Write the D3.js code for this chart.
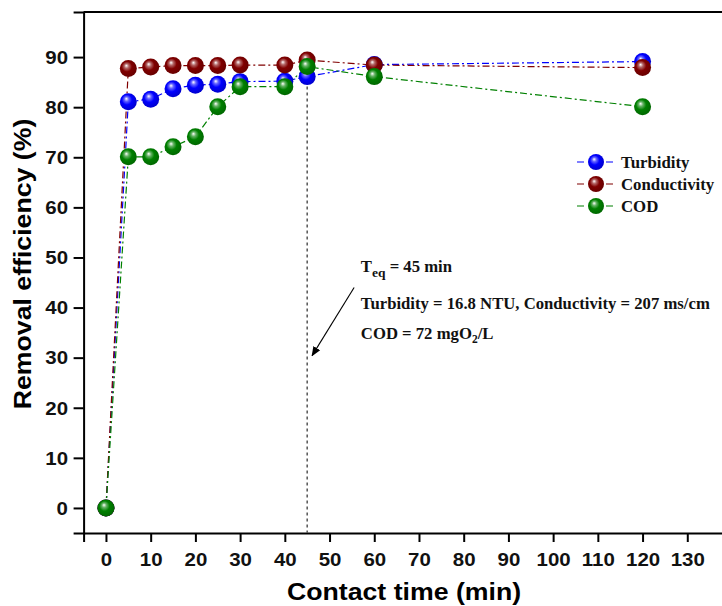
<!DOCTYPE html>
<html>
<head>
<meta charset="utf-8">
<script src="https://cdn.jsdelivr.net/npm/d3@7"></script>
<style>
  body { margin: 0; background: #fff; }
  svg { display: block; }
  .tick text { font-family: "Liberation Sans", Arial, sans-serif; font-weight: bold; font-size: 17.5px; fill: #111; }
  .serif { font-family: "Liberation Serif", "Times New Roman", serif; font-weight: bold; fill: #111; }
</style>
</head>
<body>
<svg id="chart" width="722" height="606"></svg>
<script>
// contact time (min)
var times = [0, 5, 10, 15, 20, 25, 30, 40, 45, 60, 120];
// removal efficiency (%)
var turbidity    = [0, 81.1, 81.6, 83.7, 84.4, 84.6, 85.1, 85.2, 86.1, 88.5, 89.1];
var conductivity = [0, 87.7, 88.0, 88.3, 88.3, 88.3, 88.4, 88.4, 89.4, 88.4, 87.9];
var cod          = [0, 70.1, 70.1, 72.1, 74.1, 80.1, 84.1, 84.1, 88.1, 86.1, 80.1];
var seriesNames  = ["Turbidity", "Conductivity", "COD"];
var seriesColors = ["#0000ff", "#800000", "#008000"];
var xTicks = [0, 10, 20, 30, 40, 50, 60, 70, 80, 90, 100, 110, 120, 130];
var yTicks = [0, 10, 20, 30, 40, 50, 60, 70, 80, 90];
var tEq = 45;

var svg = d3.select("#chart");

var x = d3.scaleLinear().domain([-5, 140]).range([83.6, 732]);
var y = d3.scaleLinear().domain([-5, 99]).range([533, 12]);

// the original's sans text is a little wider than Liberation Sans
var stretch = 1.17;

var series = [turbidity, conductivity, cod].map(function(vals, i) {
	return {
		name: seriesNames[i],
		color: seriesColors[i],
		values: times.map(function(t, j) { return {t: t, v: vals[j]}; })
	};
});

// sphere gradients
var defs = svg.append("defs");
series.forEach(function(s, i) {
	var g = defs.append("radialGradient")
		.attr("id", "ball" + i)
		.attr("cx", "45%").attr("cy", "45%").attr("r", "60%")
		.attr("fx", "38%").attr("fy", "32%");
	g.append("stop").attr("offset", "0%").attr("stop-color", "#ffffff");
	g.append("stop").attr("offset", "22%").attr("stop-color", d3.interpolateRgb("#ffffff", s.color)(0.6));
	g.append("stop").attr("offset", "50%").attr("stop-color", s.color);
	g.append("stop").attr("offset", "100%").attr("stop-color", d3.color(s.color).darker(0.7));
});
defs.append("marker")
	.attr("id", "arrow")
	.attr("viewBox", "0 0 10 10")
	.attr("refX", 9).attr("refY", 5)
	.attr("markerWidth", 9).attr("markerHeight", 9)
	.attr("orient", "auto")
	.append("path")
	.attr("d", "M0,1 L10,5 L0,9 Z")
	.attr("fill", "#000");

// frame (top line only, right side runs off the page)
svg.append("line")
	.attr("x1", x(-5)).attr("x2", x(140))
	.attr("y1", y(99)).attr("y2", y(99))
	.attr("stroke", "#000").attr("stroke-width", 2);

// axes
var xAxis = svg.append("g")
	.attr("transform", "translate(0," + y(-5) + ")")
	.call(d3.axisBottom(x).tickValues(xTicks).tickSize(9).tickPadding(7));
var yAxis = svg.append("g")
	.attr("transform", "translate(" + x(-5) + ",0)")
	.call(d3.axisLeft(y).tickValues(yTicks).tickSize(10).tickPadding(5));
[xAxis, yAxis].forEach(function(a) {
	a.select(".domain").attr("stroke", "#000").attr("stroke-width", 2);
	a.selectAll(".tick line").attr("stroke", "#000").attr("stroke-width", 2);
});
xAxis.selectAll(".tick text")
	.attr("dy", "0.95em")
	.attr("transform", "scale(" + stretch + ",1)");
yAxis.selectAll(".tick text")
	.attr("dy", "0.36em")
	.attr("x", -15.6 / stretch)
	.attr("transform", "scale(" + stretch + ",1)");

// axis titles
svg.append("text")
	.attr("transform", "translate(404,600) scale(1.09,1)")
	.attr("text-anchor", "middle")
	.style("font-family", "'Liberation Sans', Arial, sans-serif")
	.style("font-weight", "bold").style("font-size", "24.5px")
	.text("Contact time (min)");
svg.append("text")
	.attr("transform", "translate(31,264) rotate(-90) scale(1.09,1)")
	.attr("text-anchor", "middle")
	.style("font-family", "'Liberation Sans', Arial, sans-serif")
	.style("font-weight", "bold").style("font-size", "24.5px")
	.text("Removal efficiency (%)");

// equilibrium line
svg.append("line")
	.attr("x1", x(tEq)).attr("x2", x(tEq))
	.attr("y1", y(86.5)).attr("y2", y(-5))
	.attr("stroke", "#555").attr("stroke-width", 1.5)
	.attr("stroke-dasharray", "3,3");

// series lines
var line = d3.line()
	.x(function(d) { return x(d.t); })
	.y(function(d) { return y(d.v); });

series.forEach(function(s) {
	svg.append("path")
		.datum(s.values)
		.attr("d", line)
		.attr("fill", "none")
		.attr("stroke", s.color)
		.attr("stroke-width", 1.2)
		.attr("stroke-dasharray", "7,3,2,3");
});

series.forEach(function(s, i) {
	svg.append("g").selectAll("circle")
		.data(s.values)
		.join("circle")
		.attr("cx", function(d) { return x(d.t); })
		.attr("cy", function(d) { return y(d.v); })
		.attr("r", 8.5)
		.attr("fill", "url(#ball" + i + ")");
});

// legend
var legend = svg.append("g").attr("transform", "translate(577,162)");
series.forEach(function(s, i) {
	var row = legend.append("g").attr("transform", "translate(0," + (i * 22) + ")");
	row.append("line")
		.attr("x1", 0).attr("x2", 36)
		.attr("stroke", s.color).attr("stroke-width", 1.2)
		.attr("stroke-dasharray", "7,22,7");
	row.append("circle")
		.attr("cx", 19).attr("r", 8)
		.attr("fill", "url(#ball" + i + ")");
	row.append("text")
		.attr("class", "serif")
		.attr("x", 44).attr("y", 5.5)
		.style("font-size", "16.8px")
		.text(s.name);
});

// annotation
svg.append("line")
	.attr("x1", x(55.5)).attr("y1", y(44))
	.attr("x2", x(46.1)).attr("y2", y(30.4))
	.attr("stroke", "#000").attr("stroke-width", 1.1)
	.attr("marker-end", "url(#arrow)");

var ann = svg.append("g").attr("class", "serif").style("font-size", "16.7px");
var t1 = ann.append("text").attr("x", x(57)).attr("y", 272);
t1.append("tspan").text("T");
t1.append("tspan").attr("dy", 5).style("font-size", "13.5px").text("eq");
t1.append("tspan").attr("dy", -5).text(" = 45 min");
ann.append("text").attr("x", x(57)).attr("y", 309)
	.text("Turbidity = 16.8 NTU, Conductivity = 207 ms/cm");
var t3 = ann.append("text").attr("x", x(57)).attr("y", 339);
t3.append("tspan").text("COD = 72 mgO");
t3.append("tspan").attr("dy", 4).style("font-size", "11.5px").text("2");
t3.append("tspan").attr("dy", -4).text("/L");
</script>
</body>
</html>
